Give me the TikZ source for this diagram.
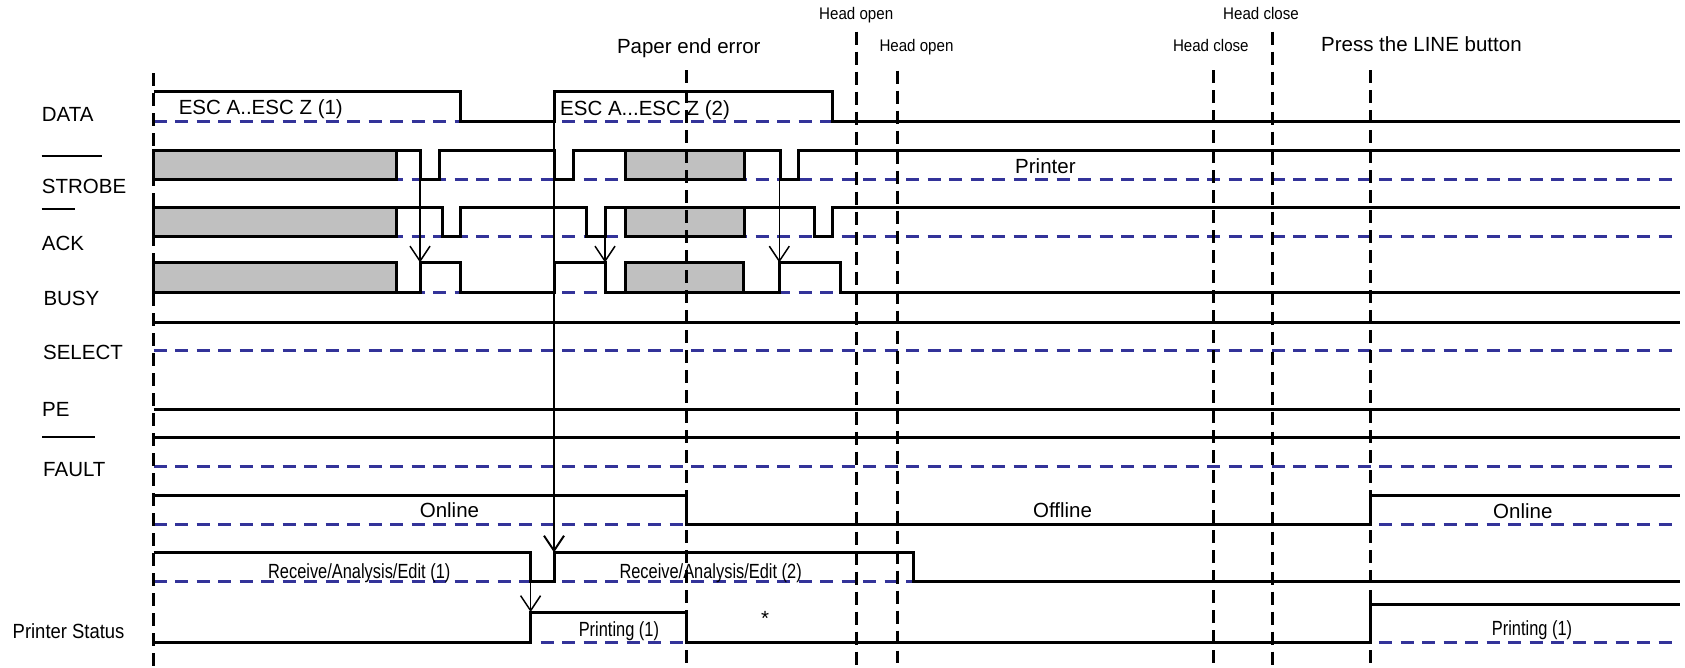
\documentclass[tikz,border=0pt]{standalone}
\usepackage{fontspec}
\setmainfont{Liberation Sans}
\newfontfamily\narrowfont[FakeStretch=0.8]{Liberation Sans}
\newfontfamily\semifont[FakeStretch=0.9]{Liberation Sans}
\usetikzlibrary{arrows.meta}
\definecolor{refblue}{RGB}{51,51,153}
\definecolor{boxgrey}{RGB}{192,192,192}
\tikzset{
  wave/.style={line width=3pt},
  lowline/.style={refblue, line width=3pt, dash pattern=on 13pt off 8.5pt},
  cutline/.style={line width=3pt, dash pattern=on 13pt off 7pt},
  busybox/.style={wave, fill=boxgrey},
  cue/.style={line width=1.5pt, -{Straight Barb[length=15pt,width=20pt]}},
  overbar/.style={line width=2pt},
}

\begin{document}
\begin{tikzpicture}[x=1pt, y=-1pt,
  every node/.style={inner sep=0pt, anchor=base west, font=\fontsize{20.5}{24}\selectfont},
  headtxt/.style={font=\semifont\fontsize{16.8}{20}\selectfont},
  narrowtxt/.style={font=\narrowfont\fontsize{20.5}{24}\selectfont}]
\useasboundingbox (0,0) rectangle (1685,667);
% Signal names
\node (ndata) at (41.7,121.7) {DATA};
\node (nstrobe) at (41.7,193.3) {STROBE};
\node (nack) at (41.7,250) {ACK};
\node (nbusy) at (43.3,305) {BUSY};
\node (nselect) at (42.9,359.3) {SELECT};
\node (npe) at (42,416.7) {PE};
\node (nfault) at (43,476) {FAULT};
\node[font=\semifont\fontsize{20.5}{24}\selectfont] (nstatus) at (12.5,638.3) {Printer Status};
\draw[overbar] (41.7,156) -- (101.7,156);
\draw[overbar] (41.7,209) -- (75,209);
\draw[overbar] (42,436.7) -- (94.6,436.7);
% Low levels
\draw[lowline] (153.7,121.5) -- (1680,121.5);
\draw[lowline] (153.7,179) -- (1680,179);
\draw[lowline] (153.7,236.5) -- (1680,236.5);
\draw[lowline] (153.7,292) -- (1680,292);
\draw[lowline] (153.7,350.7) -- (1680,350.7);
\draw[lowline] (153.7,466.7) -- (1680,466.7);
\draw[lowline] (153.7,524) -- (1680,524);
\draw[lowline] (153.7,581.7) -- (1680,581.7);
\draw[lowline] (153.7,642.5) -- (1680,642.5);
% Busy blocks
\draw[busybox] (153.7,150) rectangle (396.4,179);
\draw[busybox] (625,150) rectangle (744.3,179);
\draw[busybox] (153.7,207.5) rectangle (396.4,236.5);
\draw[busybox] (625,207.5) rectangle (744.3,236.5);
\draw[busybox] (153.7,262.5) rectangle (396.4,292);
\draw[busybox] (625,262.5) rectangle (743,292);
% DATA
\draw[wave] (153.7,91.7) -| (460.7,121.5) -| (554,91.7) -| (832.9,121.5) -- (1680,121.5);
% STROBE
\draw[wave] (396.4,150) -| (420,179) -| (439.3,150) -| (554,179) -| (573.5,150) -- (625,150);
\draw[wave] (744.3,150) -| (780,179) -| (798.9,150) -- (1680,150);
% ACK
\draw[wave] (396.4,207.5) -| (442,236.5) -| (460.7,207.5) -| (586,236.5) -| (605,207.5) -- (625,207.5);
\draw[wave] (744.3,207.5) -| (814.3,236.5) -| (832.9,207.5) -- (1680,207.5);
% BUSY
\draw[wave] (396.4,292) -| (420,262.5) -| (460.7,292) -| (554,262.5) -| (605,292) -- (625,292);
\draw[wave] (743,292) -| (779.3,262.5) -| (840,292) -- (1680,292);
% SELECT, PE, FAULT
\draw[wave] (153.7,322.7) -- (1680,322.7);
\draw[wave] (153.7,409.3) -- (1680,409.3);
\draw[wave] (153.7,437.5) -- (1680,437.5);
% Online / Offline
\draw[wave] (153.7,495.5) -| (686.4,524) -| (1370.6,495.5) -- (1680,495.5);
% Receive/Analysis/Edit
\draw[wave] (153.7,552.5) -| (530.6,581.7) -| (554,552.5) -| (913.2,581.7) -- (1680,581.7);
% Printer status
\draw[wave] (153.7,642.5) -| (530.6,612) -| (686.4,642.5) -| (1370.6,604) -- (1680,604);
% Event markers
\draw[cutline] (153.7,73) -- (153.7,667);
\draw[cutline] (686.4,70) -- (686.4,663);
\draw[cutline] (856.7,31.7) -- (856.7,667);
\draw[cutline] (897.3,70.7) -- (897.3,663);
\draw[cutline] (1213.8,70) -- (1213.8,663);
\draw[cutline] (1272.4,31.7) -- (1272.4,667);
\draw[cutline] (1370.6,70) -- (1370.6,663);
% Handshake arrows
\coordinate (st1) at (420,179);
\coordinate (bs1) at (420,262.5);
\coordinate (ak2) at (605,236.5);
\coordinate (bs2) at (605,262.5);
\coordinate (st3) at (779.3,179);
\coordinate (bs3) at (779.3,262.5);
\coordinate (rx1) at (530.6,581.7);
\coordinate (pr1) at (530.6,612);
\coordinate (dt2) at (554,91.7);
\coordinate (rx2) at (554,552.5);
\draw[cue] (st1) -- (bs1);
\draw[cue] (ak2) -- (bs2);
\draw[cue] (st3) -- (bs3);
\draw[cue] (rx1) -- (pr1);
\draw[cue, line width=2pt] (dt2) -- (rx2);
% Texts
\node (esc1) at (178.6,114.3) {ESC A..ESC Z (1)};
\node (esc2) at (560,115.5) {ESC A...ESC Z (2)};
\node (paperend) at (616.8,53.3) {Paper end error};
\node[headtxt] (hopen1) at (819,19.3) {Head open};
\node[headtxt] (hopen2) at (879.3,51.7) {Head open};
\node[headtxt] (hclose1) at (1172.8,51.7) {Head close};
\node[headtxt] (hclose2) at (1223,19.3) {Head close};
\node (linebtn) at (1320.9,51.7) {Press the LINE button};
\node (printer) at (1015,173.3) {Printer};
\node (online1) at (419.6,517.3) {Online};
\node (offline) at (1032.9,517.3) {Offline};
\node (online2) at (1493,518.5) {Online};
\node[narrowtxt] (recv1) at (267.9,578.3) {Receive/Analysis/Edit (1)};
\node[narrowtxt] (recv2) at (619.3,578.3) {Receive/Analysis/Edit (2)};
\node[narrowtxt] (print1) at (578.6,636.7) {Printing (1)};
\node (star) at (761,625) {*};
\node[narrowtxt] (print2) at (1491.7,635) {Printing (1)};
\end{tikzpicture}
\end{document}
